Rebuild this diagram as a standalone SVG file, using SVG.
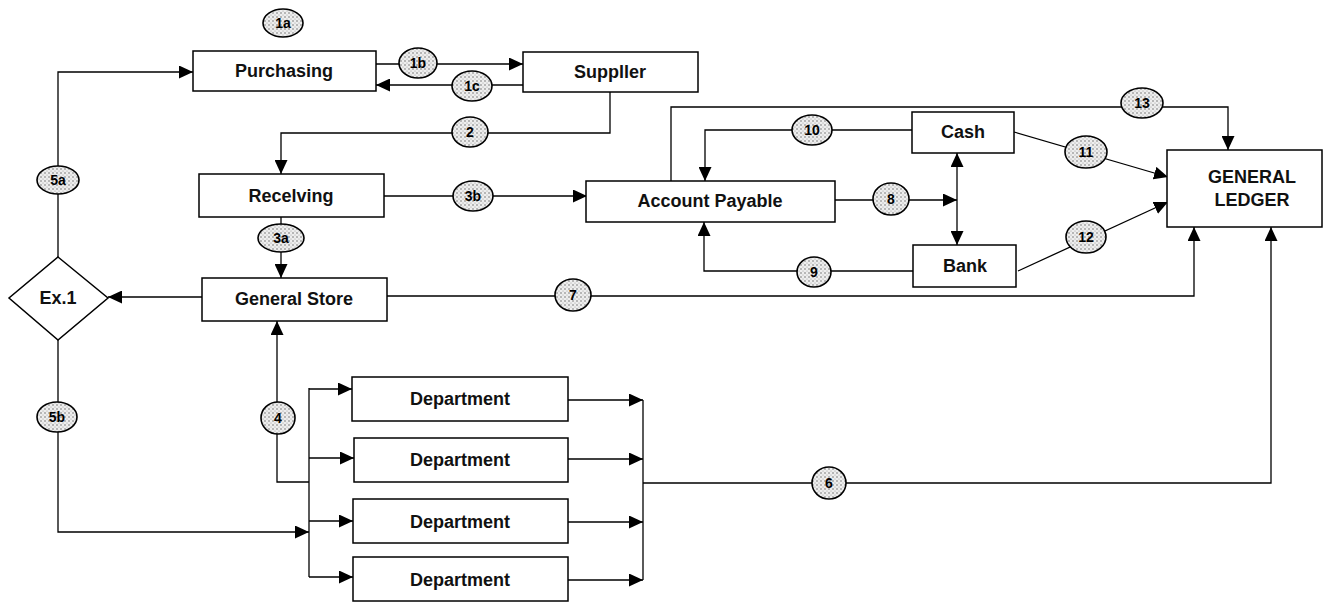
<svg xmlns="http://www.w3.org/2000/svg" width="1324" height="603" viewBox="0 0 1324 603">
  <defs>
    <marker id="arrow" markerUnits="userSpaceOnUse" markerWidth="14" markerHeight="13" refX="14" refY="6.5" orient="auto">
      <path d="M0,0 L14,6.5 L0,13 z" fill="#000"/>
    </marker>
    <marker id="arrowStart" markerUnits="userSpaceOnUse" markerWidth="14" markerHeight="13" refX="0" refY="6.5" orient="auto">
      <path d="M14,0 L0,6.5 L14,13 z" fill="#000"/>
    </marker>
    <pattern id="stipple" width="4" height="4" patternUnits="userSpaceOnUse">
      <rect width="4" height="4" fill="#eeeeee"/>
      <circle cx="1" cy="1" r="0.75" fill="#666"/>
      <circle cx="3" cy="3" r="0.55" fill="#999"/>
    </pattern>
    <style>
      .box { fill: #fff; stroke: #000; stroke-width: 1.5; }
      .lbl { font-family: "Liberation Sans", Arial, sans-serif; font-weight: bold; font-size: 18px; fill: #111; text-anchor: middle; dominant-baseline: central; }
      .conn { fill: none; stroke: #000; stroke-width: 1.3; }
      .tag ellipse { fill: url(#stipple); stroke: #000; stroke-width: 1.6; }
      .tag text { font-family: "Liberation Sans", Arial, sans-serif; font-weight: bold; font-size: 14px; fill: #000; text-anchor: middle; dominant-baseline: central; }
    </style>
  </defs>

  <rect width="1324" height="603" fill="#fff"/>

  <!-- connectors -->
  <g id="connectors">
    <path class="conn" d="M58,257 V72 H193" marker-end="url(#arrow)"/>
    <path class="conn" d="M376,64 H523" marker-end="url(#arrow)"/>
    <path class="conn" d="M523,85 H376" marker-end="url(#arrow)"/>
    <path class="conn" d="M610,92 V133 H281 V174" marker-end="url(#arrow)"/>
    <path class="conn" d="M384,196 H587" marker-end="url(#arrow)"/>
    <path class="conn" d="M281,217 V278" marker-end="url(#arrow)"/>
    <path class="conn" d="M671,181 V107 H1228 V150" marker-end="url(#arrow)"/>
    <path class="conn" d="M912,130 H705 V181" marker-end="url(#arrow)"/>
    <path class="conn" d="M835,200 H957" marker-end="url(#arrow)"/>
    <path class="conn" d="M957,153 V245" marker-start="url(#arrowStart)" marker-end="url(#arrow)"/>
    <path class="conn" d="M913,271 H704 V222" marker-end="url(#arrow)"/>
    <path class="conn" d="M1014,132 L1168,177" marker-end="url(#arrow)"/>
    <path class="conn" d="M1018,271 L1168,202" marker-end="url(#arrow)"/>
    <path class="conn" d="M387,296 H1194 V227" marker-end="url(#arrow)"/>
    <path class="conn" d="M202,297 H108" marker-end="url(#arrow)"/>
    <path class="conn" d="M58,340 V532 H309" marker-end="url(#arrow)"/>
    <path class="conn" d="M309,482 H277 V321" marker-end="url(#arrow)"/>
    <!-- fan-out to departments -->
    <path class="conn" d="M309,388 V577"/>
    <path class="conn" d="M309,389 H352" marker-end="url(#arrow)"/>
    <path class="conn" d="M309,458 H354" marker-end="url(#arrow)"/>
    <path class="conn" d="M309,521 H353" marker-end="url(#arrow)"/>
    <path class="conn" d="M309,577 H353" marker-end="url(#arrow)"/>
    <!-- fan-in from departments -->
    <path class="conn" d="M568,400 H643" marker-end="url(#arrow)"/>
    <path class="conn" d="M568,459 H643" marker-end="url(#arrow)"/>
    <path class="conn" d="M568,522 H643" marker-end="url(#arrow)"/>
    <path class="conn" d="M568,580 H643" marker-end="url(#arrow)"/>
    <path class="conn" d="M643,400 V580"/>
    <path class="conn" d="M643,483 H1271 V227" marker-end="url(#arrow)"/>
  </g>

  <!-- step tags -->
  <g id="tags">
    <g class="tag"><ellipse cx="283" cy="23" rx="20" ry="14"/><text x="283" y="23">1a</text></g>
    <g class="tag"><ellipse cx="418" cy="63" rx="19" ry="15"/><text x="418" y="63">1b</text></g>
    <g class="tag"><ellipse cx="472" cy="86" rx="20" ry="15"/><text x="472" y="86">1c</text></g>
    <g class="tag"><ellipse cx="470" cy="132" rx="18" ry="15"/><text x="470" y="132">2</text></g>
    <g class="tag"><ellipse cx="281" cy="238" rx="23" ry="14"/><text x="281" y="238">3a</text></g>
    <g class="tag"><ellipse cx="473" cy="196" rx="20" ry="15"/><text x="473" y="196">3b</text></g>
    <g class="tag"><ellipse cx="278" cy="418" rx="17" ry="16"/><text x="278" y="418">4</text></g>
    <g class="tag"><ellipse cx="58" cy="180" rx="21" ry="14"/><text x="58" y="180">5a</text></g>
    <g class="tag"><ellipse cx="57" cy="417" rx="20" ry="15"/><text x="57" y="417">5b</text></g>
    <g class="tag"><ellipse cx="829" cy="483" rx="17" ry="16"/><text x="829" y="483">6</text></g>
    <g class="tag"><ellipse cx="573" cy="295" rx="18" ry="16"/><text x="573" y="295">7</text></g>
    <g class="tag"><ellipse cx="891" cy="199" rx="18" ry="16"/><text x="891" y="199">8</text></g>
    <g class="tag"><ellipse cx="814" cy="272" rx="17" ry="15"/><text x="814" y="272">9</text></g>
    <g class="tag"><ellipse cx="812" cy="130" rx="20" ry="15"/><text x="812" y="130">10</text></g>
    <g class="tag"><ellipse cx="1086" cy="152" rx="21" ry="16"/><text x="1086" y="152">11</text></g>
    <g class="tag"><ellipse cx="1086" cy="237" rx="20" ry="16"/><text x="1086" y="237">12</text></g>
    <g class="tag"><ellipse cx="1142" cy="103" rx="21" ry="15"/><text x="1142" y="103">13</text></g>
  </g>

  <!-- nodes -->
  <g id="purchasing"><rect class="box" x="193" y="51" width="183" height="40"/><text class="lbl" x="284" y="71">Purchasing</text></g>
  <g id="supplier"><rect class="box" x="523" y="52" width="175" height="40"/><text class="lbl" x="610" y="72">Suppller</text></g>
  <g id="receiving"><rect class="box" x="199" y="174" width="185" height="43"/><text class="lbl" x="291" y="196">Recelving</text></g>
  <g id="general-store"><rect class="box" x="202" y="278" width="185" height="43"/><text class="lbl" x="294" y="299">General Store</text></g>
  <g id="ex1"><polygon class="box" points="58,257 108,298 58,340 9,298"/><text class="lbl" x="58" y="298">Ex.1</text></g>
  <g id="account-payable"><rect class="box" x="586" y="181" width="249" height="41"/><text class="lbl" x="710" y="201">Account Payable</text></g>
  <g id="cash"><rect class="box" x="912" y="112" width="102" height="41"/><text class="lbl" x="963" y="132">Cash</text></g>
  <g id="bank"><rect class="box" x="913" y="245" width="103" height="42"/><text class="lbl" x="965" y="266">Bank</text></g>
  <g id="general-ledger"><rect class="box" x="1167" y="150" width="155" height="77"/><text class="lbl" x="1252" y="177">GENERAL</text><text class="lbl" x="1252" y="200">LEDGER</text></g>
  <g id="department-1"><rect class="box" x="352" y="377" width="216" height="44"/><text class="lbl" x="460" y="399">Department</text></g>
  <g id="department-2"><rect class="box" x="354" y="438" width="214" height="44"/><text class="lbl" x="460" y="460">Department</text></g>
  <g id="department-3"><rect class="box" x="353" y="499" width="215" height="44"/><text class="lbl" x="460" y="522">Department</text></g>
  <g id="department-4"><rect class="box" x="353" y="557" width="215" height="44"/><text class="lbl" x="460" y="580">Department</text></g>
</svg>
